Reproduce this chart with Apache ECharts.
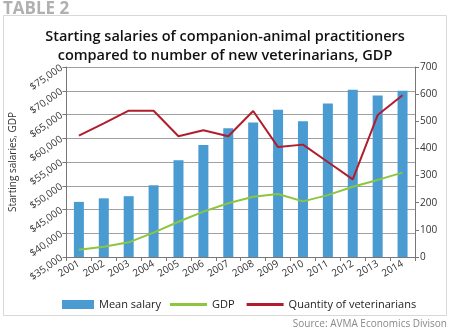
<!DOCTYPE html>
<html><head><meta charset="utf-8">
<script src="https://cdn.jsdelivr.net/npm/echarts@6/dist/echarts.min.js"></script>
<style>html,body{margin:0;padding:0;background:#fff}#c{width:450px;height:334px}</style>
</head><body><div id="c"></div>
<script>
const years = ['2001','2002','2003','2004','2005','2006','2007','2008','2009','2010','2011','2012','2013','2014'];
const meanSalary = [46600,47350,47800,50100,55350,58600,62100,63300,66000,63600,67300,70200,69000,70000];
const gdp = [27,38,54,90,130,167,198,222,232,205,228,259,284,311];
const vets = [447,492,539,539,445,467,445,538,405,414,350,286,523,596];

const chart = echarts.init(document.getElementById('c'), null, {renderer:'canvas'});
const fam = '"Open Sans", "Noto Sans", sans-serif';
const legText = {fontSize:11, color:'#222', fontFamily:fam};
chart.setOption({
  animation:false,
  textStyle:{fontFamily:fam},
  title:{
    text:'Starting salaries of companion-animal practitioners\ncompared to number of new veterinarians, GDP',
    left:'center', top:22,
    textStyle:{fontSize:14.5, fontWeight:600, color:'#111', lineHeight:19, fontFamily:fam}
  },
  graphic:[
    {type:'rect', shape:{x:3.5,y:15.5,width:443,height:300}, style:{fill:'none', stroke:'#d8d8d8', lineWidth:1}, z:-1},
    {type:'text', left:3, top:1, style:{text:'TABLE 2', fontSize:17, fontWeight:'bold', fill:'#b0b0b0', fontFamily:fam}},
    {type:'text', right:3, top:319, style:{text:'Source: AVMA Economics Divison', fontSize:10, fill:'#888', fontFamily:fam}}
  ],
  grid:{left:64, right:35, top:67, bottom:77},
  legend:[
    {left:57, top:294, itemWidth:32, itemHeight:9, itemGap:10, textStyle:legText,
     data:[{name:'Mean salary', icon:'rect'}]},
    {left:165, top:294, itemWidth:37, itemHeight:3, itemGap:12, textStyle:legText,
     data:[{name:'GDP', icon:'rect'}, {name:'Quantity of veterinarians', icon:'rect'}]}
  ],
  xAxis:{
    type:'category', data:years,
    axisLine:{lineStyle:{color:'#777'}},
    axisTick:{show:true, lineStyle:{color:'#777'}, length:4},
    axisLabel:{rotate:30, fontSize:10, color:'#333', margin:6, interval:0}
  },
  yAxis:[
    {
      type:'value', min:35000, max:75000, interval:5000,
      name:'Starting salaries, GDP', nameLocation:'middle', nameGap:48, nameRotate:90,
      nameTextStyle:{fontSize:10, color:'#333'},
      axisLine:{show:true, lineStyle:{color:'#777'}},
      axisTick:{show:true, length:4, lineStyle:{color:'#777'}},
      splitLine:{lineStyle:{color:'#a0a0a0', width:1}},
      axisLabel:{rotate:35, fontSize:10, color:'#333', margin:5,
        formatter:v=>'$'+v.toLocaleString('en-US')}
    },
    {
      type:'value', min:0, max:700, interval:100,
      axisLine:{show:true, lineStyle:{color:'#777'}},
      axisTick:{show:true, length:4, lineStyle:{color:'#777'}},
      splitLine:{show:false},
      axisLabel:{fontSize:10, color:'#333', margin:5}
    }
  ],
  series:[
    {name:'Mean salary', type:'bar', data:meanSalary, barWidth:10, itemStyle:{color:'#4a9bd2'}, yAxisIndex:0},
    {name:'GDP', type:'line', data:gdp, yAxisIndex:1, symbol:'none', lineStyle:{color:'#8cc63f', width:2}, itemStyle:{color:'#8cc63f'}},
    {name:'Quantity of veterinarians', type:'line', data:vets, yAxisIndex:1, symbol:'none', lineStyle:{color:'#b01e2d', width:2}, itemStyle:{color:'#b01e2d'}}
  ]
});
</script></body></html>
